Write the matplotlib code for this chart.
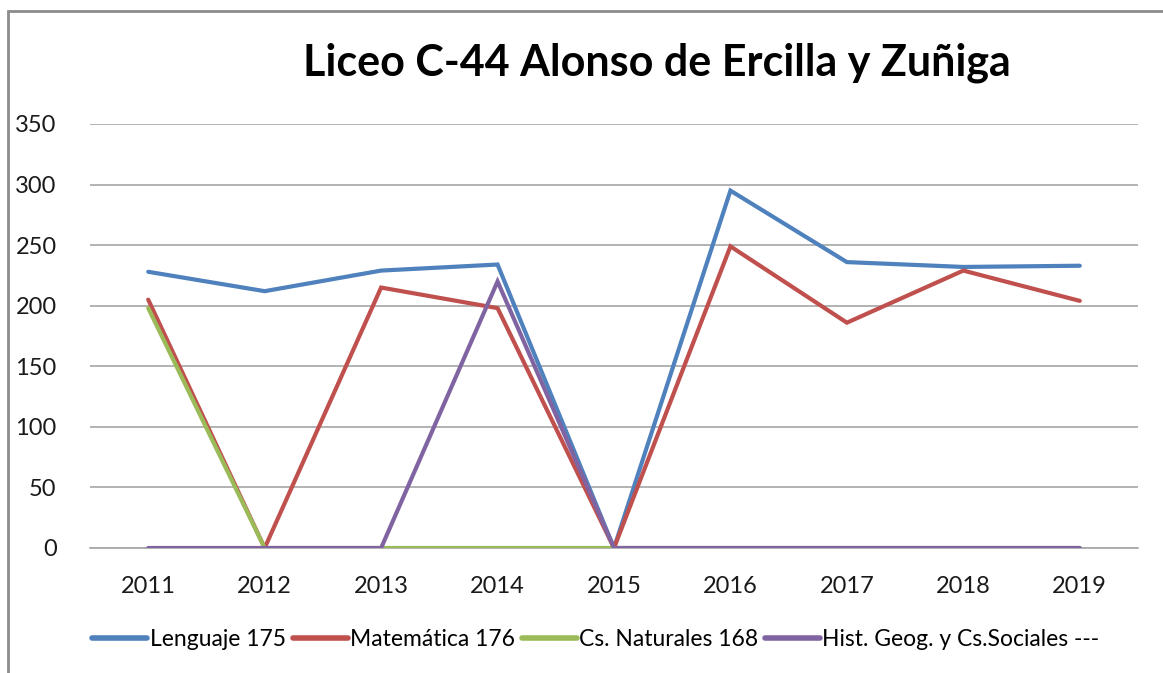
import matplotlib
matplotlib.use('Agg')
import matplotlib.pyplot as plt
from matplotlib.patches import Rectangle

plt.rcParams['font.family'] = ['Lato', 'DejaVu Sans']

# data
years = ['2011', '2012', '2013', '2014', '2015', '2016', '2017', '2018', '2019']
lenguaje = [228, 212, 229, 234, 0, 295, 236, 232, 233]
matematica = [205, 0, 215, 198, 0, 249, 186, 229, 204]
naturales = [198, 0, 0, 0, 0, 0, 0, 0, 0]
historia = [0, 0, 0, 220, 0, 0, 0, 0, 0]
yticks = [0, 50, 100, 150, 200, 250, 300, 350]

series = [
    ('Lenguaje 175', lenguaje, '#4F81BD'),
    ('Matemática 176', matematica, '#C0504D'),
    ('Cs. Naturales 168', naturales, '#9BBB59'),
    ('Hist. Geog. y Cs.Sociales ---', historia, '#8064A2'),
]

fig = plt.figure(figsize=(11.63, 6.73), dpi=100)
ax = fig.add_axes([90 / 1163, 1 - 548 / 673, (1138 - 90) / 1163, (548 - 124) / 673])

x = range(len(years))
for label, vals, color in series:
    ax.plot(x, vals, color=color, lw=3, label=label, solid_capstyle='round',
            solid_joinstyle='miter', zorder=3)

ax.set_xlim(-0.5, len(years) - 0.5)
ax.set_ylim(0, 350)
ax.set_yticks(yticks)
ax.set_xticks(list(x))
ax.set_xticklabels(years)
ax.grid(axis='y', color='#a6a6a6', lw=1.2)
ax.set_axisbelow(True)
for s in ['top', 'right', 'left']:
    ax.spines[s].set_visible(False)
ax.spines['bottom'].set_color('#a6a6a6')
ax.spines['bottom'].set_linewidth(1.2)
ax.tick_params(axis='both', length=0, labelsize=17, colors='#1a1a1a')
ax.tick_params(axis='y', pad=24)
ax.tick_params(axis='x', pad=20)

fig.text(657 / 1163, 1 - 63 / 673, 'Liceo C-44 Alonso de Ercilla y Zuñiga',
         ha='center', va='center', fontsize=31, fontweight='bold', color='black')

leg = fig.legend(loc='center', bbox_to_anchor=(596 / 1163, 1 - 640 / 673), ncol=4,
                 frameon=False, fontsize=16.5, handlelength=2.4, handletextpad=0.1,
                 columnspacing=0.3)
for h in leg.get_lines():
    h.set_linewidth(4)

fig.patches.append(Rectangle((8 / 1163, -0.1), 1.2, 1.1 - 11 / 673, transform=fig.transFigure,
                             fill=False, edgecolor='#8c8c8c', lw=2, zorder=0))

fig.savefig('out.png', dpi=100)
